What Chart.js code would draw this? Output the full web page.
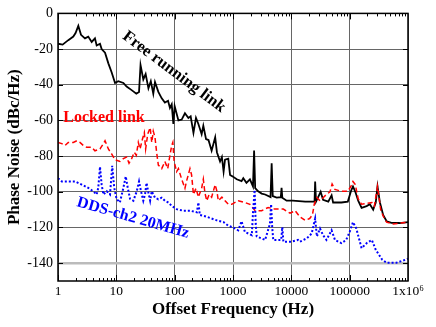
<!DOCTYPE html>
<html>
<head>
<meta charset="utf-8">
<script src="https://cdn.jsdelivr.net/npm/chart.js@4/dist/chart.umd.min.js"></script>
<style>
html,body{margin:0;padding:0;background:#fff;}
#wrap{width:436px;height:327px;}
</style>
</head>
<body>
<div id="wrap"><canvas id="c" width="436" height="327"></canvas></div>
<script>
// ---------- data ----------
const freeFreq = [1,1.2,1.5,1.83,2.0,2.23,2.48,2.9,3.3,3.78,4.3,4.6,5.25,5.6,6.4,7.3,8.3,9.5,10.8,13.2,15,18.3,22,24.5,26,29,31.8,35.5,39,43,46,52.5,60,68,77,83,89,95,100,116,132,150,172,188,210,232,255,290,310,345,380,430,495,530,600,645,690,730,830,890,1000,1160,1400,1500,1700,1950,2200,2300,2400,2700,3100,3550,4400,4600,4800,5600,6600,6800,7000,8300,10600,17300,25000,25600,26500,31800,35000,43000,49000,52000,72000,93000,106000,114000,125000,140000,160000,195000,222000,253000,280000,300000,330000,375000,430000,520000,720000,1000000];
const freeNoise = [-17,-17.5,-15,-13,-11,-7,-12,-14,-13,-16,-14,-18,-17,-20,-22,-28,-33,-39,-38,-39,-41,-43,-45,-44,-29,-37,-34,-42,-38,-45,-38.5,-44,-47.6,-50,-49,-53,-51,-62,-52,-60,-59.5,-56,-58.6,-57.7,-67,-58.6,-62,-67.7,-63,-70.5,-71,-77,-69.5,-77.8,-83,-80.5,-88.7,-82,-81.4,-90.5,-91.5,-93,-94,-92.4,-95,-93,-97,-76.8,-98,-99.7,-101,-101.5,-103,-84,-102.4,-103.3,-103,-97.8,-103.3,-105,-105,-105.5,-105.5,-94.2,-105.5,-100,-104.5,-105.5,-102,-106,-106,-105.5,-99.3,-97,-100,-105,-109,-108,-107,-110,-106,-97,-106,-113,-116.5,-117.4,-117.5,-117];

const lockFreq = [1,1.16,1.32,1.5,1.83,2.1,2.38,2.7,3.1,3.78,4.3,5.25,6,6.4,7.3,8.3,9.5,11.5,13.2,15,16.5,18.3,20.3,22,23.8,25.5,28,30.2,31.8,34.5,38,40.5,43,46,49,52.5,60,68,76,83,89,93,98,108,116,132,150,160,183,195,210,232,255,290,310,330,355,390,430,495,530,560,645,730,830,950,1230,1600,1950,2400,3100,4000,5200,7300,9500,11600,14000,17300,20600,23000,24700,27400,31000,35000,40000,46000,50000,56000,72000,93000,105000,114000,125000,140000,160000,195000,240000,265000,300000,340000,380000,430000,560000,1000000];
const lockNoise = [-72.3,-73,-74,-72.3,-72.3,-71.4,-72.3,-74,-75,-75,-77,-76,-73,-71.4,-76,-78.7,-82,-83,-81.4,-80.5,-84,-81.4,-77.8,-79.6,-72.3,-76,-70.5,-66.8,-76,-67.7,-64,-72.3,-66,-69.5,-77.8,-85,-87,-83,-87,-79.6,-74,-72.3,-83,-88.7,-87,-93,-98,-94,-87,-90.5,-101.5,-98,-103,-98,-93,-100.6,-105,-101.5,-103,-96,-99.7,-105,-103,-105,-107,-107,-105,-106,-107,-110.6,-110.6,-108.8,-109.7,-109.7,-112,-110.6,-114,-116,-115,-113,-107,-103.3,-105,-103.3,-101.5,-100,-95.6,-98.7,-99.7,-99.7,-97,-94.2,-96,-104,-107,-106.5,-106,-108,-97,-110,-114,-117,-118,-117];

const ddsFreq = [1,1.16,1.5,1.96,2.55,3.3,4,4.6,4.9,5.25,5.6,6,6.85,7.8,8.5,9.2,10.1,11.5,13.2,14.5,15.7,17.2,19.6,22.4,24.5,26.5,29,31,33,35.5,38,40.5,46,52.5,60,68,78,89,108,140,183,240,255,270,355,430,530,690,830,1000,1230,1400,1600,2100,2200,2350,2450,2550,3550,4300,4500,4700,4900,6700,7000,7300,10000,13000,14000,18600,22300,25600,27400,31000,35000,40000,49000,56000,72000,87000,100000,114000,130000,160000,195000,240000,280000,360000,430000,630000,920000,1000000];
const ddsNoise = [-92.4,-94.2,-94.2,-94.2,-96,-97.8,-99.7,-101.5,-97.8,-86,-96,-101.5,-99.7,-101.5,-85.4,-97.8,-104,-106,-97.8,-91.4,-97.8,-104,-105,-99.7,-94.2,-99.7,-105,-101.5,-95,-100.6,-105,-99.7,-103.3,-104.2,-103.3,-105,-106,-107.9,-109.7,-110.6,-110.6,-111.5,-106,-113,-114,-115,-116,-117,-119,-120,-121.6,-116.5,-122.5,-124.3,-112,-99,-118,-125,-127,-118,-107,-120,-127,-127,-119.8,-128,-128,-127,-128,-126,-123.4,-115,-125,-120.6,-124.3,-127,-121.6,-127,-128.8,-127,-122.5,-117,-120.6,-131.6,-128.8,-127,-132.5,-138,-139.8,-139.8,-138,-137.5];

const xTickValues = [1,10,100,1000,10000,100000,1000000];
const xTickLabels = ['1','10','100','1000','10000','100000','1x10\u2076'];
const yTickValues = [-140,-120,-100,-80,-60,-40,-20,0];

const seriesNames = ['Free running link','Locked link','DDS-ch2 20MHz'];
const seriesColors = ['#000000','#ff0000','#0000ff'];

// ---------- helpers ----------
const toXY = (xs, ys) => xs.map((x, i) => ({x: x, y: ys[i]}));
const SERIF = "'Liberation Serif','DejaVu Serif',serif";

// annotation labels placed next to curves
const annotations = [
  {text: seriesNames[0], color: seriesColors[0], x: 174, y: 72, rot: 37, size: 16.5},
  {text: seriesNames[1], color: seriesColors[1], x: 104, y: 118, rot: 0, size: 16},
  {text: seriesNames[2], color: seriesColors[2], x: 133, y: 218, rot: 16, size: 16}
];

const framePlugin = {
  id: 'frame',
  afterDraw(chart) {
    const {ctx, chartArea: a, scales} = chart;
    const xs = scales.x;
    ctx.save();
    ctx.strokeStyle = '#000';
    ctx.lineWidth = 1;
    ctx.beginPath();
    for (let d = 1; d < 1e6; d *= 10) {
      for (let k = 1; k <= 9; k++) {
        const px = Math.round(xs.getPixelForValue(k * d)) + 0.5;
        const len = k === 1 ? 6 : 3;
        ctx.moveTo(px, a.bottom); ctx.lineTo(px, a.bottom - len);
        ctx.moveTo(px, a.top); ctx.lineTo(px, a.top + len);
      }
    }
    const ys = scales.y;
    yTickValues.forEach(v => {
      const py = Math.round(ys.getPixelForValue(v)) + 0.5;
      ctx.moveTo(a.left, py); ctx.lineTo(a.left + 5, py);
      ctx.moveTo(a.right, py); ctx.lineTo(a.right - 5, py);
    });
    ctx.stroke();
    ctx.lineWidth = 1.5;
    ctx.strokeRect(a.left, a.top, a.right - a.left, a.bottom - a.top);
    annotations.forEach(an => {
      ctx.save();
      ctx.translate(an.x, an.y);
      ctx.rotate(an.rot * Math.PI / 180);
      ctx.font = 'bold ' + an.size + 'px ' + SERIF;
      ctx.fillStyle = an.color;
      ctx.textAlign = 'center';
      ctx.textBaseline = 'middle';
      ctx.fillText(an.text, 0, 0);
      ctx.restore();
    });
    ctx.restore();
  }
};

new Chart(document.getElementById('c'), {
  type: 'scatter',
  data: {
    datasets: [
      {label: seriesNames[2], data: toXY(ddsFreq, ddsNoise), showLine: true, borderColor: seriesColors[2], borderWidth: 2, borderDash: [2, 2], pointRadius: 0, tension: 0},
      {label: seriesNames[1], data: toXY(lockFreq, lockNoise), showLine: true, borderColor: seriesColors[1], borderWidth: 1.5, borderDash: [5, 3], pointRadius: 0, tension: 0},
      {label: seriesNames[0], data: toXY(freeFreq, freeNoise), showLine: true, borderColor: seriesColors[0], borderWidth: 1.8, pointRadius: 0, tension: 0}
    ]
  },
  options: {
    responsive: false,
    animation: false,
    layout: {padding: {top: 8, right: 28, left: 0, bottom: 0}},
    plugins: {legend: {display: false}, tooltip: {enabled: false}},
    scales: {
      x: {
        type: 'logarithmic',
        min: 1, max: 1000000,
        afterBuildTicks: s => { s.ticks = xTickValues.map(v => ({value: v})); },
        afterFit: s => { s.height = 46; },
        ticks: {
          autoSkip: false, maxRotation: 0, padding: 2,
          color: '#000', font: {family: SERIF, size: 13.5},
          callback: (v) => { const i = xTickValues.indexOf(v); return i >= 0 ? xTickLabels[i] : ''; }
        },
        grid: {color: '#666', lineWidth: 1, drawTicks: false},
        border: {display: false},
        title: {display: true, text: 'Offset Frequency (Hz)', color: '#000', font: {family: SERIF, size: 17, weight: 'bold'}, padding: {top: 0, bottom: 7}}
      },
      y: {
        type: 'linear',
        min: -150, max: 0,
        afterBuildTicks: s => { s.ticks = yTickValues.map(v => ({value: v})); },
        afterFit: s => { s.width = 58; },
        ticks: {padding: 5, color: '#000', font: {family: SERIF, size: 14}},
        grid: {
          color: c => (c.tick && c.tick.value === -140) ? '#bbbbbb' : '#666',
          lineWidth: c => (c.tick && c.tick.value === -140) ? 2.5 : 1,
          drawTicks: false
        },
        border: {display: false},
        title: {display: true, text: 'Phase Noise (dBc/Hz)', color: '#000', font: {family: SERIF, size: 17, weight: 'bold'}, padding: {top: 4, bottom: 0}}
      }
    }
  },
  plugins: [framePlugin]
});
</script>
</body>
</html>
